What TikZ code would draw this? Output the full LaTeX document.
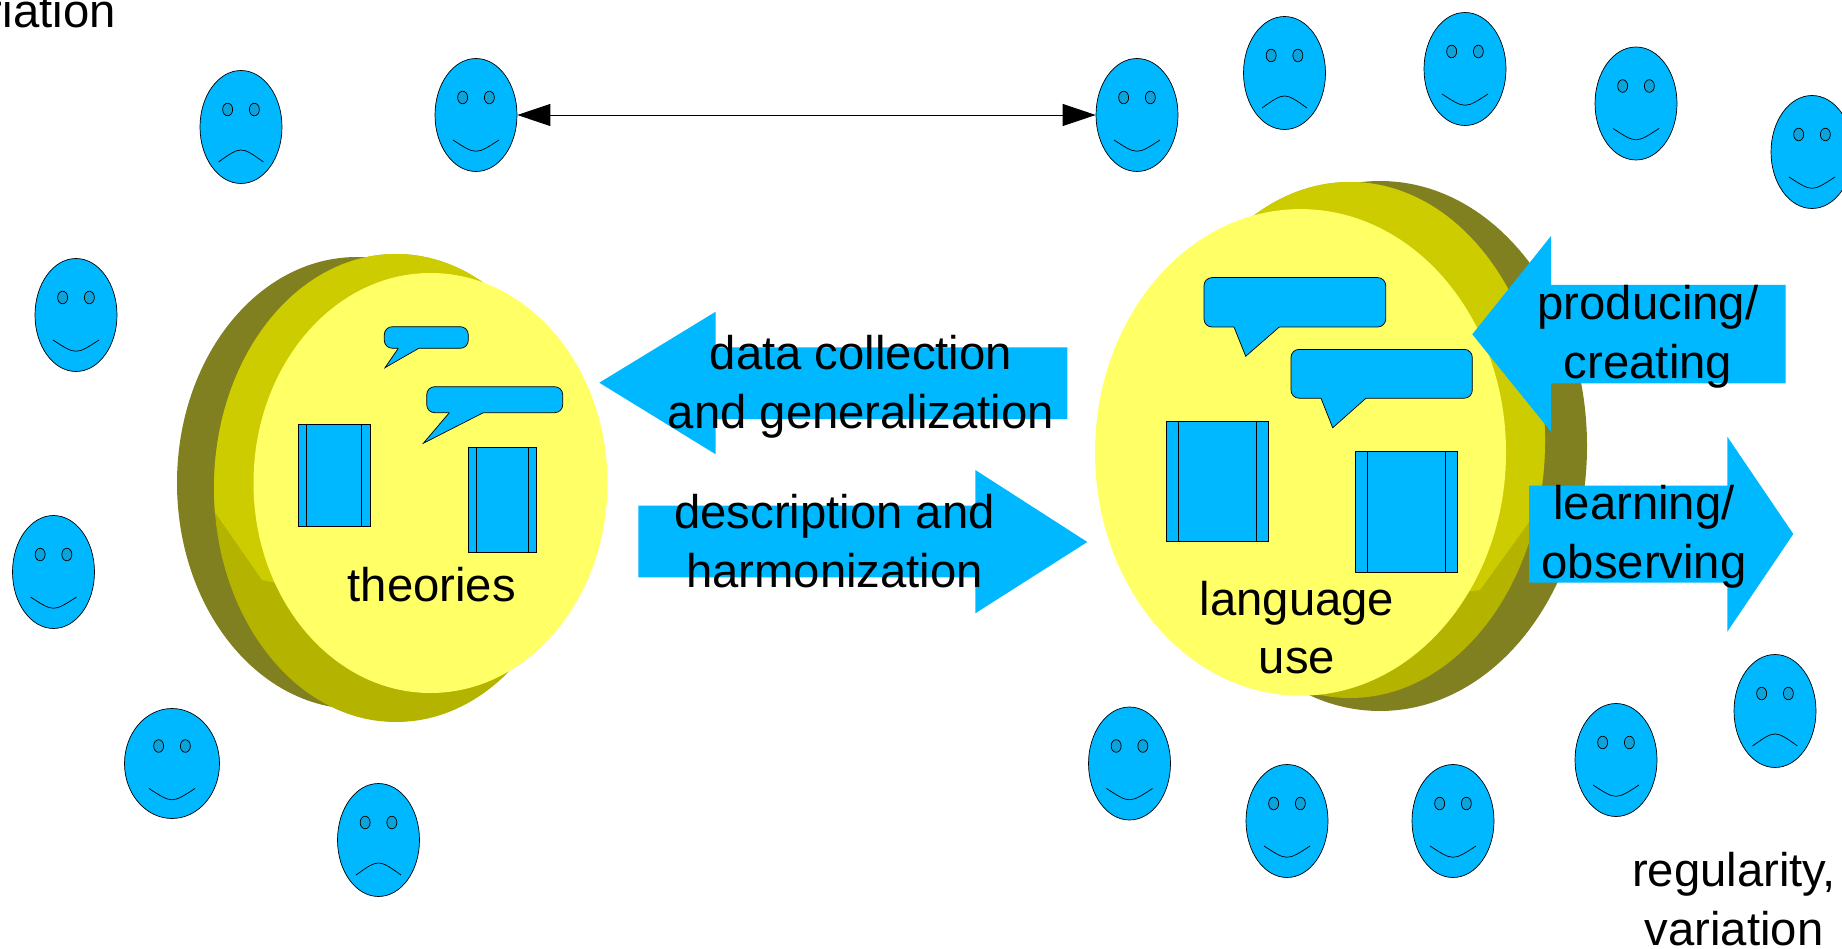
\documentclass[tikz,border=0pt]{standalone}
\usepackage{fontspec}
\setmainfont{Liberation Sans}
\usetikzlibrary{shapes.geometric}
\usetikzlibrary{arrows.meta}
\usetikzlibrary{calc}

\definecolor{facefill}{HTML}{00B8FF}
\definecolor{eyefill}{HTML}{0CA2DA}
\definecolor{discface}{HTML}{FFFF66}
\definecolor{disclit}{HTML}{CCCC00}
\definecolor{discshade}{HTML}{B3B300}
\definecolor{discback}{HTML}{808020}

\newcommand{\faceeyes}{%
  \draw[fill=eyefill] (-0.267,0.35) ellipse [x radius=0.1, y radius=0.126];
  \draw[fill=eyefill] (0.267,0.35) ellipse [x radius=0.1, y radius=0.126];
}

% speech bubble: body corners, tail base left, tip, tail base right
\newcommand{\callout}[8]{%
  \draw[fill=facefill, thin, rounded corners=0.16cm] (#1,#2) rectangle (#3,#4);
  \fill[facefill] (#5,#4-2) -- (#5,#4) -- (#6,#7) -- (#8,#4) -- (#8,#4-2) -- cycle;
  \draw[thin] (#5,#4) -- (#6,#7) -- (#8,#4);
}

\begin{document}
\begin{tikzpicture}[x=0.02cm, y=-0.02cm,
  face/.style={ellipse, draw, thin, fill=facefill, inner sep=0pt,
    minimum width=1.64cm, minimum height=2.26cm},
  smile/.style={face, path picture={
    \begin{scope}[shift={(path picture bounding box.center)}, x=1cm, y=1cm]
      \faceeyes
      \draw (-0.46,-0.5) .. controls (0,-0.8) .. (0.46,-0.5);
    \end{scope}}},
  frown/.style={face, path picture={
    \begin{scope}[shift={(path picture bounding box.center)}, x=1cm, y=1cm]
      \faceeyes
      \draw (-0.45,-0.7) .. controls (0,-0.38) .. (0.45,-0.7);
    \end{scope}}},
  book/.style={rectangle, draw, thin, fill=facefill, inner sep=0pt, path picture={
    \draw ($(path picture bounding box.north west)!0.115!(path picture bounding box.north east)$)
       -- ($(path picture bounding box.south west)!0.115!(path picture bounding box.south east)$);
    \draw ($(path picture bounding box.north west)!0.885!(path picture bounding box.north east)$)
       -- ($(path picture bounding box.south west)!0.885!(path picture bounding box.south east)$);}},
  bigarrow/.style={fill=facefill},
  txt/.style={font=\fontsize{26.9pt}{33.2pt}\selectfont, align=center, inner sep=0pt, anchor=base}
]
\fill[white] (0,0) rectangle (1842,949);
\useasboundingbox (0,0) rectangle (1842,949);

%people
\node[frown] (p1) at (241,127) {};
\node[smile] (p2) at (476,115) {};
\node[smile] (p3) at (1137,115) {};
\node[frown] (p4) at (1284.5,73) {};
\node[smile] (p5) at (1465,69) {};
\node[smile] (p6) at (1636,103.5) {};
\node[smile] (p7) at (1812,152) {};
\node[smile] (p8) at (76,315) {};
\node[smile] (p9) at (53.5,572) {};
\node[smile, minimum width=1.9cm, minimum height=2.2cm] (p10) at (172,763.5) {};
\node[frown] (p11) at (378.5,840) {};
\node[smile] (p12) at (1129.5,763.5) {};
\node[smile] (p13) at (1287,821) {};
\node[smile] (p14) at (1453,821) {};
\node[smile] (p15) at (1616,760) {};
\node[frown] (p16) at (1775,711) {};

\draw[<->, >={Triangle[length=0.66cm, width=0.44cm]}, line width=0.5pt] (p2) -- (p3);

%theories disc
\fill[discback] (357,483) ellipse [x radius=180, y radius=226];
\fill[discshade] (396,488) ellipse [x radius=182, y radius=234];
\begin{scope}
\clip (150,240) -- (620,240) -- (620,650) -- (262,580) -- (212,508) -- (150,490) -- cycle;
\fill[disclit] (396,488) ellipse [x radius=182, y radius=234];
\end{scope}
\fill[discface] (430.5,483) ellipse [x radius=177, y radius=210];

\callout{384.3}{326.7}{468.3}{348.3}{398.3}{385}{367.7}{418.8}
\callout{426.7}{386.7}{562.7}{412.7}{449.3}{423.3}{443.3}{483.3}
\node[book, minimum width=1.434cm, minimum height=2.034cm] (tb1) at (334.2,475.2) {};
\node[book, minimum width=1.368cm, minimum height=2.108cm] (tb2) at (502.5,500) {};
\node[txt] (theo) at (431.7,601.7) {theories};

%language use disc
\fill[discback] (1380,446) ellipse [x radius=207, y radius=265];
\fill[discshade] (1350,440) ellipse [x radius=195, y radius=258];
\begin{scope}
\clip (1050,150) -- (1650,150) -- (1650,450) -- (1545,500) -- (1480,590) -- (1050,640) -- cycle;
\fill[disclit] (1350,440) ellipse [x radius=195, y radius=258];
\end{scope}
\fill[discface] (1300.5,452.4) ellipse [x radius=205.5, y radius=243.3];

\callout{1204}{277.6}{1385.7}{327}{1234}{1245.7}{356.3}{1279.3}
\callout{1291}{349.4}{1472.3}{398.2}{1321}{1332.7}{427.8}{1366}
\node[book, minimum width=2.032cm, minimum height=2.414cm] (lb1) at (1217.5,481.5) {};
\node[book, minimum width=2.04cm, minimum height=2.416cm] (lb2) at (1406.3,511.9) {};
\node[txt] (lang) at (1297,673.9) {language\\use};

%block arrows
\fill[bigarrow] (599.3,382.7) -- (715.7,311.7) -- (715.7,347.3) -- (1067.3,347.3) -- (1067.3,419) -- (715.7,419) -- (715.7,454.3) -- cycle;
\fill[bigarrow] (638.3,505.7) -- (975.3,505.7) -- (975.3,470) -- (1087.3,542) -- (975.3,613.3) -- (975.3,577.3) -- (638.3,577.3) -- cycle;
\fill[bigarrow] (1472.3,334.3) -- (1551,236) -- (1551,285) -- (1785.7,285) -- (1785.7,383.3) -- (1551,383.3) -- (1551,431.7) -- cycle;
\fill[bigarrow] (1529,485.7) -- (1727.3,485.7) -- (1727.3,436.7) -- (1793.3,534) -- (1727.3,631.7) -- (1727.3,582.7) -- (1529,582.7) -- cycle;

\node[txt] (coll) at (861,428.3) {data collection\\and generalization};
\node[txt] (desc) at (834.5,587.3) {description and\\harmonization};
\node[txt] (prod) at (1648,378.3) {producing/\\creating};
\node[txt] (learn) at (1644,578.3) {learning/\\observing};

\node[txt, anchor=base east] (var) at (116,28) {variation};
\node[txt] (reg) at (1734,945) {regularity,\\variation};

\end{tikzpicture}
\end{document}
